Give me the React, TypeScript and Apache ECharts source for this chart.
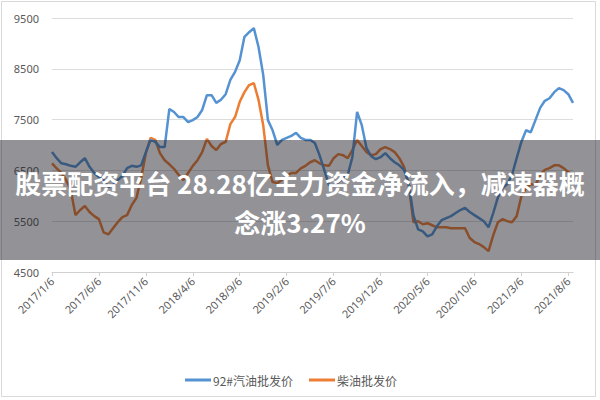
import React, { useEffect, useRef } from "react";
import * as echarts from "echarts";

// Half-monthly observation dates (the 6th and 21st of each month), 2017/1/6 .. 2021/8/21
const startYear = 2017;
const pointCount = 112;
const categories: string[] = [];
for (let i = 0; i < pointCount; i++) {
  const monthIndex = Math.floor(i / 2);
  const y = startYear + Math.floor(monthIndex / 12);
  const m = (monthIndex % 12) + 1;
  categories.push(`${y}/${m}/${i % 2 === 0 ? 6 : 21}`);
}

const seriesNames = ["92#汽油批发价", "柴油批发价"];

const gasoline92 = [
  6860, 6740, 6640, 6620, 6590, 6570, 6660, 6740, 6570, 6450,
  6370, 6310, 6170, 6210, 6310, 6390, 6545, 6590, 6570, 6600,
  6860, 7100, 7060, 6960, 6960, 7710, 7650, 7550, 7550, 7450,
  7490, 7550, 7690, 7980, 7980, 7830, 7890, 8000, 8280, 8440,
  8670, 9130, 9220, 9300, 8930, 8380, 7490, 7290, 7000, 7100,
  7140, 7180, 7240, 7140, 7100, 7100, 7040, 6800, 6510, 6210,
  6190, 6270, 6350, 6410, 6760, 7650, 7390, 6940, 6780, 6720,
  6760, 6840, 6740, 6660, 6600, 6510, 6250, 5620, 5340, 5300,
  5200, 5240, 5400, 5520, 5560, 5600, 5660, 5720, 5760, 5680,
  5620, 5560, 5500, 5380, 5660, 5970, 6150, 6230, 6410, 6740,
  7060, 7290, 7250, 7490, 7730, 7870, 7920, 8040, 8120, 8080,
  8000, 7830,
];

const diesel = [
  6640, 6540, 6450, 6310, 6110, 5620, 5720, 5800, 5680, 5600,
  5540, 5280, 5240, 5360, 5480, 5580, 5620, 5820, 5960, 6350,
  6840, 7140, 7100, 6840, 6700, 6620, 6530, 6410, 6310, 6450,
  6590, 6700, 6860, 7120, 6980, 6900, 7020, 7060, 7410, 7550,
  7850, 8040, 8180, 8220, 7890, 7390, 6600, 6270, 6250, 6310,
  6390, 6450, 6450, 6540, 6590, 6660, 6700, 6640, 6600, 6590,
  6740, 6820, 6800, 6740, 6900, 7100, 6980, 6860, 6800, 6820,
  6920, 6960, 6920, 6860, 6740, 6570, 6210, 5480, 5500, 5440,
  5460, 5420, 5380, 5380, 5380, 5360, 5360, 5360, 5360, 5170,
  5090, 5050, 4990, 4910, 5220, 5480, 5540, 5500, 5480, 5600,
  5990, 6150, 6230, 6210, 6410, 6510, 6545, 6600, 6600, 6545,
  6470, 6410,
];

const yMin = 4500;
const yMax = 9500;
const yStep = 1000;

const titleLine1 = "股票配资平台 28.28亿主力资金净流入，减速器概";
const titleLine2 = "念涨3.27%";

export default function App() {
  const ref = useRef<HTMLDivElement>(null);

  useEffect(() => {
    if (!ref.current) return;
    const chart = echarts.init(ref.current, undefined, { renderer: "svg" });
    const labelColor = "#595959";
    chart.setOption({
      animation: false,
      backgroundColor: "#ffffff",
      color: ["#5592d2", "#ec7d33"],
      grid: { left: 52, right: 27, top: 18, bottom: 128, containLabel: false },
      xAxis: {
        type: "category",
        data: categories,
        boundaryGap: false,
        axisLine: { lineStyle: { color: "#d0d0d0", width: 1 } },
        axisTick: { show: true, interval: 9, length: 4, lineStyle: { color: "#d0d0d0" } },
        axisLabel: {
          interval: 9,
          rotate: 45,
          color: labelColor,
          fontSize: 11,
          fontFamily: "Noto Sans, sans-serif",
          margin: 7,
        },
        splitLine: { show: false },
      },
      yAxis: {
        type: "value",
        min: yMin,
        max: yMax,
        interval: yStep,
        axisLine: { show: false },
        axisTick: { show: false },
        axisLabel: {
          color: labelColor,
          fontSize: 11,
          fontFamily: "Noto Sans, sans-serif",
          margin: 13,
          formatter: (v: number) => String(v),
        },
        splitLine: { lineStyle: { color: "#dcdcdc", width: 1 } },
      },
      legend: {
        left: 180,
        top: 369,
        icon: "rect",
        itemWidth: 26,
        itemHeight: 3,
        itemGap: 16,
        textStyle: { color: labelColor, fontSize: 12, fontFamily: "Noto Sans CJK SC, sans-serif", padding: [0, 0, 0, -3] },
        data: seriesNames,
      },
      series: [
        {
          name: seriesNames[0],
          type: "line",
          data: gasoline92,
          symbol: "none",
          lineStyle: { width: 2.5 },
          z: 3,
        },
        {
          name: seriesNames[1],
          type: "line",
          data: diesel,
          symbol: "none",
          lineStyle: { width: 2.5 },
          z: 2,
        },
      ],
      graphic: [
        {
          type: "rect",
          shape: { x: 1.5, y: 1.5, width: 594, height: 395 },
          style: { fill: "none", stroke: "#d9d9d9", lineWidth: 1 },
          silent: true,
          z: 1,
        },
        {
          type: "rect",
          shape: { x: 0, y: 140, width: 600, height: 120 },
          style: { fill: "rgba(25,25,35,0.47)" },
          silent: true,
          z: 100,
        },
        {
          type: "text",
          x: 300,
          y: 182,
          style: {
            text: titleLine1,
            fill: "#ffffff",
            font: "bold 26px 'Noto Sans CJK SC', sans-serif",
            textAlign: "center",
            textVerticalAlign: "middle",
          },
          silent: true,
          z: 101,
        },
        {
          type: "text",
          x: 300,
          y: 221,
          style: {
            text: titleLine2,
            fill: "#ffffff",
            font: "bold 26px 'Noto Sans CJK SC', sans-serif",
            textAlign: "center",
            textVerticalAlign: "middle",
          },
          silent: true,
          z: 101,
        },
      ],
    });
    return () => chart.dispose();
  }, []);

  return (
    <div
      ref={ref}
      style={{ position: "fixed", left: 0, top: 0, width: 600, height: 400 }}
    />
  );
}
